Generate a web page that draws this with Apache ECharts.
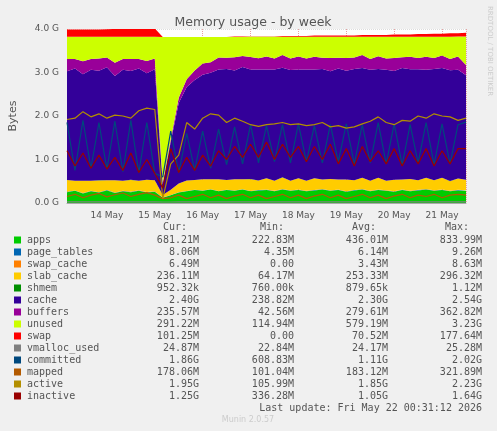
<!DOCTYPE html>
<html><head><meta charset="utf-8">
<script src="https://cdn.jsdelivr.net/npm/echarts@6/dist/echarts.min.js"></script>
<style>html,body{margin:0;padding:0;background:#F0F0F0}#c{width:497px;height:431px}</style>
</head><body><div id="c"></div>
<script>
// 4-hour samples from 13 May 04:00 to 21 May 12:00 (values in GB)
const startTime = new Date(2026,4,13,4).getTime();
const stepMs = 4*3600*1000;
const apps=[.25,.28,.22,.27,.24,.29,.23,.27,.25,.28, .24,.26,.12,.18,.24,.27,.30,.28,.31,.27, .30,.28,.31,.27,.29,.30,.27,.31,.28,.30, .27,.29,.31,.28,.30,.26,.29,.31,.27,.30, .28,.26,.30,.27,.29,.31,.28,.30,.27,.29,.28];
const page_tables=[.006,.006,.006,.006,.006,.006,.006,.006,.006,.006, .006,.006,.005,.005,.006,.006,.006,.006,.006,.006, .006,.006,.006,.006,.006,.006,.006,.006,.006,.006, .006,.006,.006,.006,.006,.006,.006,.006,.006,.006, .006,.006,.006,.006,.006,.006,.006,.006,.006,.008,.008];
const swap_cache=[.004,.004,.004,.004,.004,.005,.005,.005,.005,.006, .006,.006,0,0,0,0,0,0,0,0, .001,.001,.001,.002,.002,.002,.003,.003,.003,.003, .004,.004,.004,.004,.004,.005,.005,.005,.005,.005, .005,.006,.006,.006,.006,.006,.006,.006,.006,.006,.006];
const slab_cache=[.27,.22,.28,.23,.27,.22,.28,.23,.27,.22, .28,.25,.06,.12,.20,.24,.22,.26,.23,.27, .22,.26,.23,.27,.22,.26,.23,.27,.22,.26, .23,.27,.22,.26,.23,.27,.22,.26,.23,.27, .22,.26,.23,.27,.22,.26,.23,.27,.22,.26,.24];
const shmem=[.001,.001,.001,.001,.001,.001,.001,.001,.001,.001, .001,.001,.001,.001,.001,.001,.001,.001,.001,.001, .001,.001,.001,.001,.001,.001,.001,.001,.001,.001, .001,.001,.001,.001,.001,.001,.001,.001,.001,.001, .001,.001,.001,.001,.001,.001,.001,.001,.001,.001,.001];
const cache=[2.50,2.58,2.45,2.55,2.52,2.60,2.40,2.55,2.50,2.58, 2.45,2.55,0.24,1.10,1.85,2.15,2.30,2.40,2.45,2.52, 2.55,2.50,2.58,2.52,2.55,2.50,2.56,2.52,2.55,2.50, 2.56,2.50,2.54,2.48,2.55,2.50,2.56,2.52,2.55,2.50, 2.55,2.50,2.56,2.52,2.55,2.48,2.56,2.52,2.55,2.50,2.40];
const buffers=[.28,.22,.30,.25,.28,.22,.30,.25,.28,.22, .28,.25,.04,.06,.12,.18,.22,.26,.24,.28, .26,.30,.25,.29,.26,.30,.25,.29,.26,.30, .25,.29,.26,.30,.25,.29,.26,.30,.25,.29, .26,.30,.25,.29,.26,.30,.25,.29,.26,.30,.24];
const unused=[.51,.51,.56,.51,.50,.48,.60,.51,.51,.51, .56,.50,3.35,2.35,1.40,.97,.77,.61,.58,.47, .48,.47,.44,.46,.49,.45,.50,.42,.50,.45, .50,.46,.48,.49,.48,.49,.48,.42,.51,.45, .50,.49,.47,.46,.49,.46,.49,.43,.51,.46,.65];
const swap=[.17,.17,.17,.17,.17,.17,.18,.18,.18,.18, .19,.19,0,0,0,0,0,0,0,0, 0,.01,.01,.01,.01,.01,.01,.02,.02,.02, .02,.03,.03,.03,.03,.03,.03,.04,.04,.04, .04,.05,.05,.05,.06,.06,.07,.07,.08,.08,.09];
const vmalloc_used=[.025,.025,.025,.025,.025,.025,.025,.025,.025,.025, .025,.025,.023,.023,.024,.024,.024,.024,.024,.024, .024,.024,.024,.024,.024,.024,.024,.024,.024,.024, .024,.024,.024,.024,.024,.024,.024,.024,.024,.024, .024,.024,.024,.024,.024,.024,.024,.024,.025,.025,.025];
const committed=[1.85,.75,1.90,.80,1.85,.78,1.88,.72,1.90,.70, 1.85,.68,.60,1.65,.70,1.60,.75,1.65,.80,1.70, .88,1.75,.90,1.80,.92,1.78,.95,1.80,.92,1.82, .95,1.78,.92,1.80,.95,1.82,.90,1.80,.92,1.85, .90,1.82,.88,1.80,.92,1.85,.88,1.82,.90,1.80,1.86];
const mapped=[.15,.20,.12,.18,.22,.14,.19,.23,.15,.20, .24,.18,.10,.12,.18,.10,.15,.20,.12,.18, .10,.16,.20,.12,.18,.10,.15,.20,.12,.18, .10,.16,.20,.12,.18,.10,.15,.20,.12,.18, .10,.16,.20,.12,.18,.15,.20,.12,.18,.20,.18];
const active=[1.92,1.95,2.10,1.98,2.05,1.95,2.02,2.00,1.95,2.12, 2.18,2.15,0.10,0.90,1.10,1.85,1.70,1.95,2.05,2.02, 1.85,1.95,1.88,1.80,1.76,1.80,1.82,1.85,1.80,1.82, 1.78,1.80,1.85,1.75,1.78,1.72,1.75,1.82,1.88,1.98, 1.85,1.80,1.90,1.88,2.00,1.95,2.05,2.00,1.98,1.90,1.95];
const inactive=[1.20,.85,1.15,.80,1.10,.78,1.05,.75,1.15,.70, 1.00,.68,.34,1.25,.70,1.05,.75,1.10,.85,1.20, 1.00,1.30,1.05,1.35,1.05,1.40,1.00,1.35,1.05,1.30, .95,1.30,1.00,1.35,.90,1.25,.85,1.30,.95,1.20, .90,1.25,.85,1.20,.90,1.25,.85,1.20,.90,1.25,1.25];

const legendNames=['apps','page_tables','swap_cache','slab_cache','shmem','cache','buffers','unused','swap','vmalloc_used','committed','mapped','active','inactive'];
const legendColors=['#00CC00','#0066B3','#FF8000','#FFCC00','#008F00','#330099','#990099','#CCFF00','#FF0000','#808080','#00487D','#B35A00','#B38F00','#990000'];
const curVals=['681.21M','8.06M','6.49M','236.11M','952.32k','2.40G','235.57M','291.22M','101.25M','24.87M','1.86G','178.06M','1.95G','1.25G'];
const minVals=['222.83M','4.35M','0.00','64.17M','760.00k','238.82M','42.56M','114.94M','0.00','22.84M','608.83M','101.04M','105.99M','336.28M'];
const avgVals=['436.01M','6.14M','3.43M','253.33M','879.65k','2.30G','279.61M','579.19M','70.52M','24.17M','1.11G','183.12M','1.85G','1.05G'];
const maxVals=['833.99M','9.26M','8.63M','296.32M','1.12M','2.54G','362.82M','3.23G','177.64M','25.28M','2.02G','321.89M','2.23G','1.64G'];

const stackData=[apps,page_tables,swap_cache,slab_cache,shmem,cache,buffers,unused,swap];
const lineData=[vmalloc_used,committed,mapped,active,inactive];
const toPts=a=>a.map((v,i)=>[startTime+i*stepMs,v]);
const series=[];
stackData.forEach((d,k)=>series.push({name:legendNames[k],type:'line',stack:'m',data:toPts(d),symbol:'none',
  lineStyle:{width:0},areaStyle:{color:legendColors[k],opacity:1},itemStyle:{color:legendColors[k]},silent:true}));
lineData.forEach((d,k)=>series.push({name:legendNames[9+k],type:'line',data:toPts(d),symbol:'none',
  lineStyle:{width:1.2,color:legendColors[9+k]},silent:true}));

const mono='DejaVu Sans Mono';
const g=[];
const colX=[199,294,388,482], hdr=['Cur:','Min:','Avg:','Max:'];
hdr.forEach((h,j)=>g.push({type:'text',x:colX[j]-[12,10,12,13][j],y:227,style:{text:h,font:'10px '+mono,fill:'#555',textAlign:'right',textVerticalAlign:'middle'}}));
legendNames.forEach((n,i)=>{
  const y=240+i*12;
  g.push({type:'rect',shape:{x:14,y:y-3.5,width:7,height:7},style:{fill:legendColors[i]}});
  g.push({type:'text',x:27,y:y,style:{text:n,font:'10px '+mono,fill:'#555',textVerticalAlign:'middle'}});
  [curVals,minVals,avgVals,maxVals].forEach((arr,j)=>g.push({type:'text',x:colX[j],y:y,style:{text:arr[i],font:'10px '+mono,fill:'#555',textAlign:'right',textVerticalAlign:'middle'}}));
});
g.push({type:'text',x:482,y:408,style:{text:'Last update: Fri May 22 00:31:12 2026',font:'10px '+mono,fill:'#555',textAlign:'right',textVerticalAlign:'middle'}});
g.push({type:'text',x:248,y:420,style:{text:'Munin 2.0.57',font:'8px DejaVu Sans',fill:'#ccc',textAlign:'center',textVerticalAlign:'middle'}});
g.push({type:'text',x:490,y:6,rotation:-Math.PI/2,style:{text:'RRDTOOL / TOBI OETIKER',font:'7px DejaVu Sans',fill:'#ccc',textVerticalAlign:'middle'}});

const chart=echarts.init(document.getElementById('c'));
chart.setOption({
  backgroundColor:'#F0F0F0',animation:false,
  title:{text:'Memory usage - by week',left:248,textAlign:'center',top:11,textStyle:{fontFamily:'DejaVu Sans',fontSize:12.5,fontWeight:'normal',color:'#555'}},
  grid:{left:67,right:31,top:29,bottom:228,backgroundColor:'#fff',show:true,borderWidth:0},
  xAxis:{type:'time',min:startTime,max:startTime+50*stepMs,
    axisLine:{lineStyle:{color:'#aaa'}},axisTick:{show:false},
    axisLabel:{fontFamily:'DejaVu Sans',fontSize:9,color:'#555',formatter:v=>{const d=new Date(v);return d.getHours()===0?d.getDate()+' May':'';}},
    splitLine:{show:true,lineStyle:{color:'#e8a0a0',type:'dotted',width:1}}},
  yAxis:{type:'value',min:0,max:4,interval:0.2,name:'Bytes',nameLocation:'middle',nameGap:48,nameTextStyle:{fontFamily:'DejaVu Sans',fontSize:11,color:'#555'},
    axisLine:{show:false},axisTick:{show:false},
    axisLabel:{fontFamily:'DejaVu Sans',fontSize:9,color:'#555',formatter:v=>Math.abs(v-Math.round(v))<1e-6?v.toFixed(1)+' G':''},
    splitLine:{lineStyle:{color:'#ddd',type:'dotted'}}},
  series:series,
  graphic:g
});
</script></body></html>
